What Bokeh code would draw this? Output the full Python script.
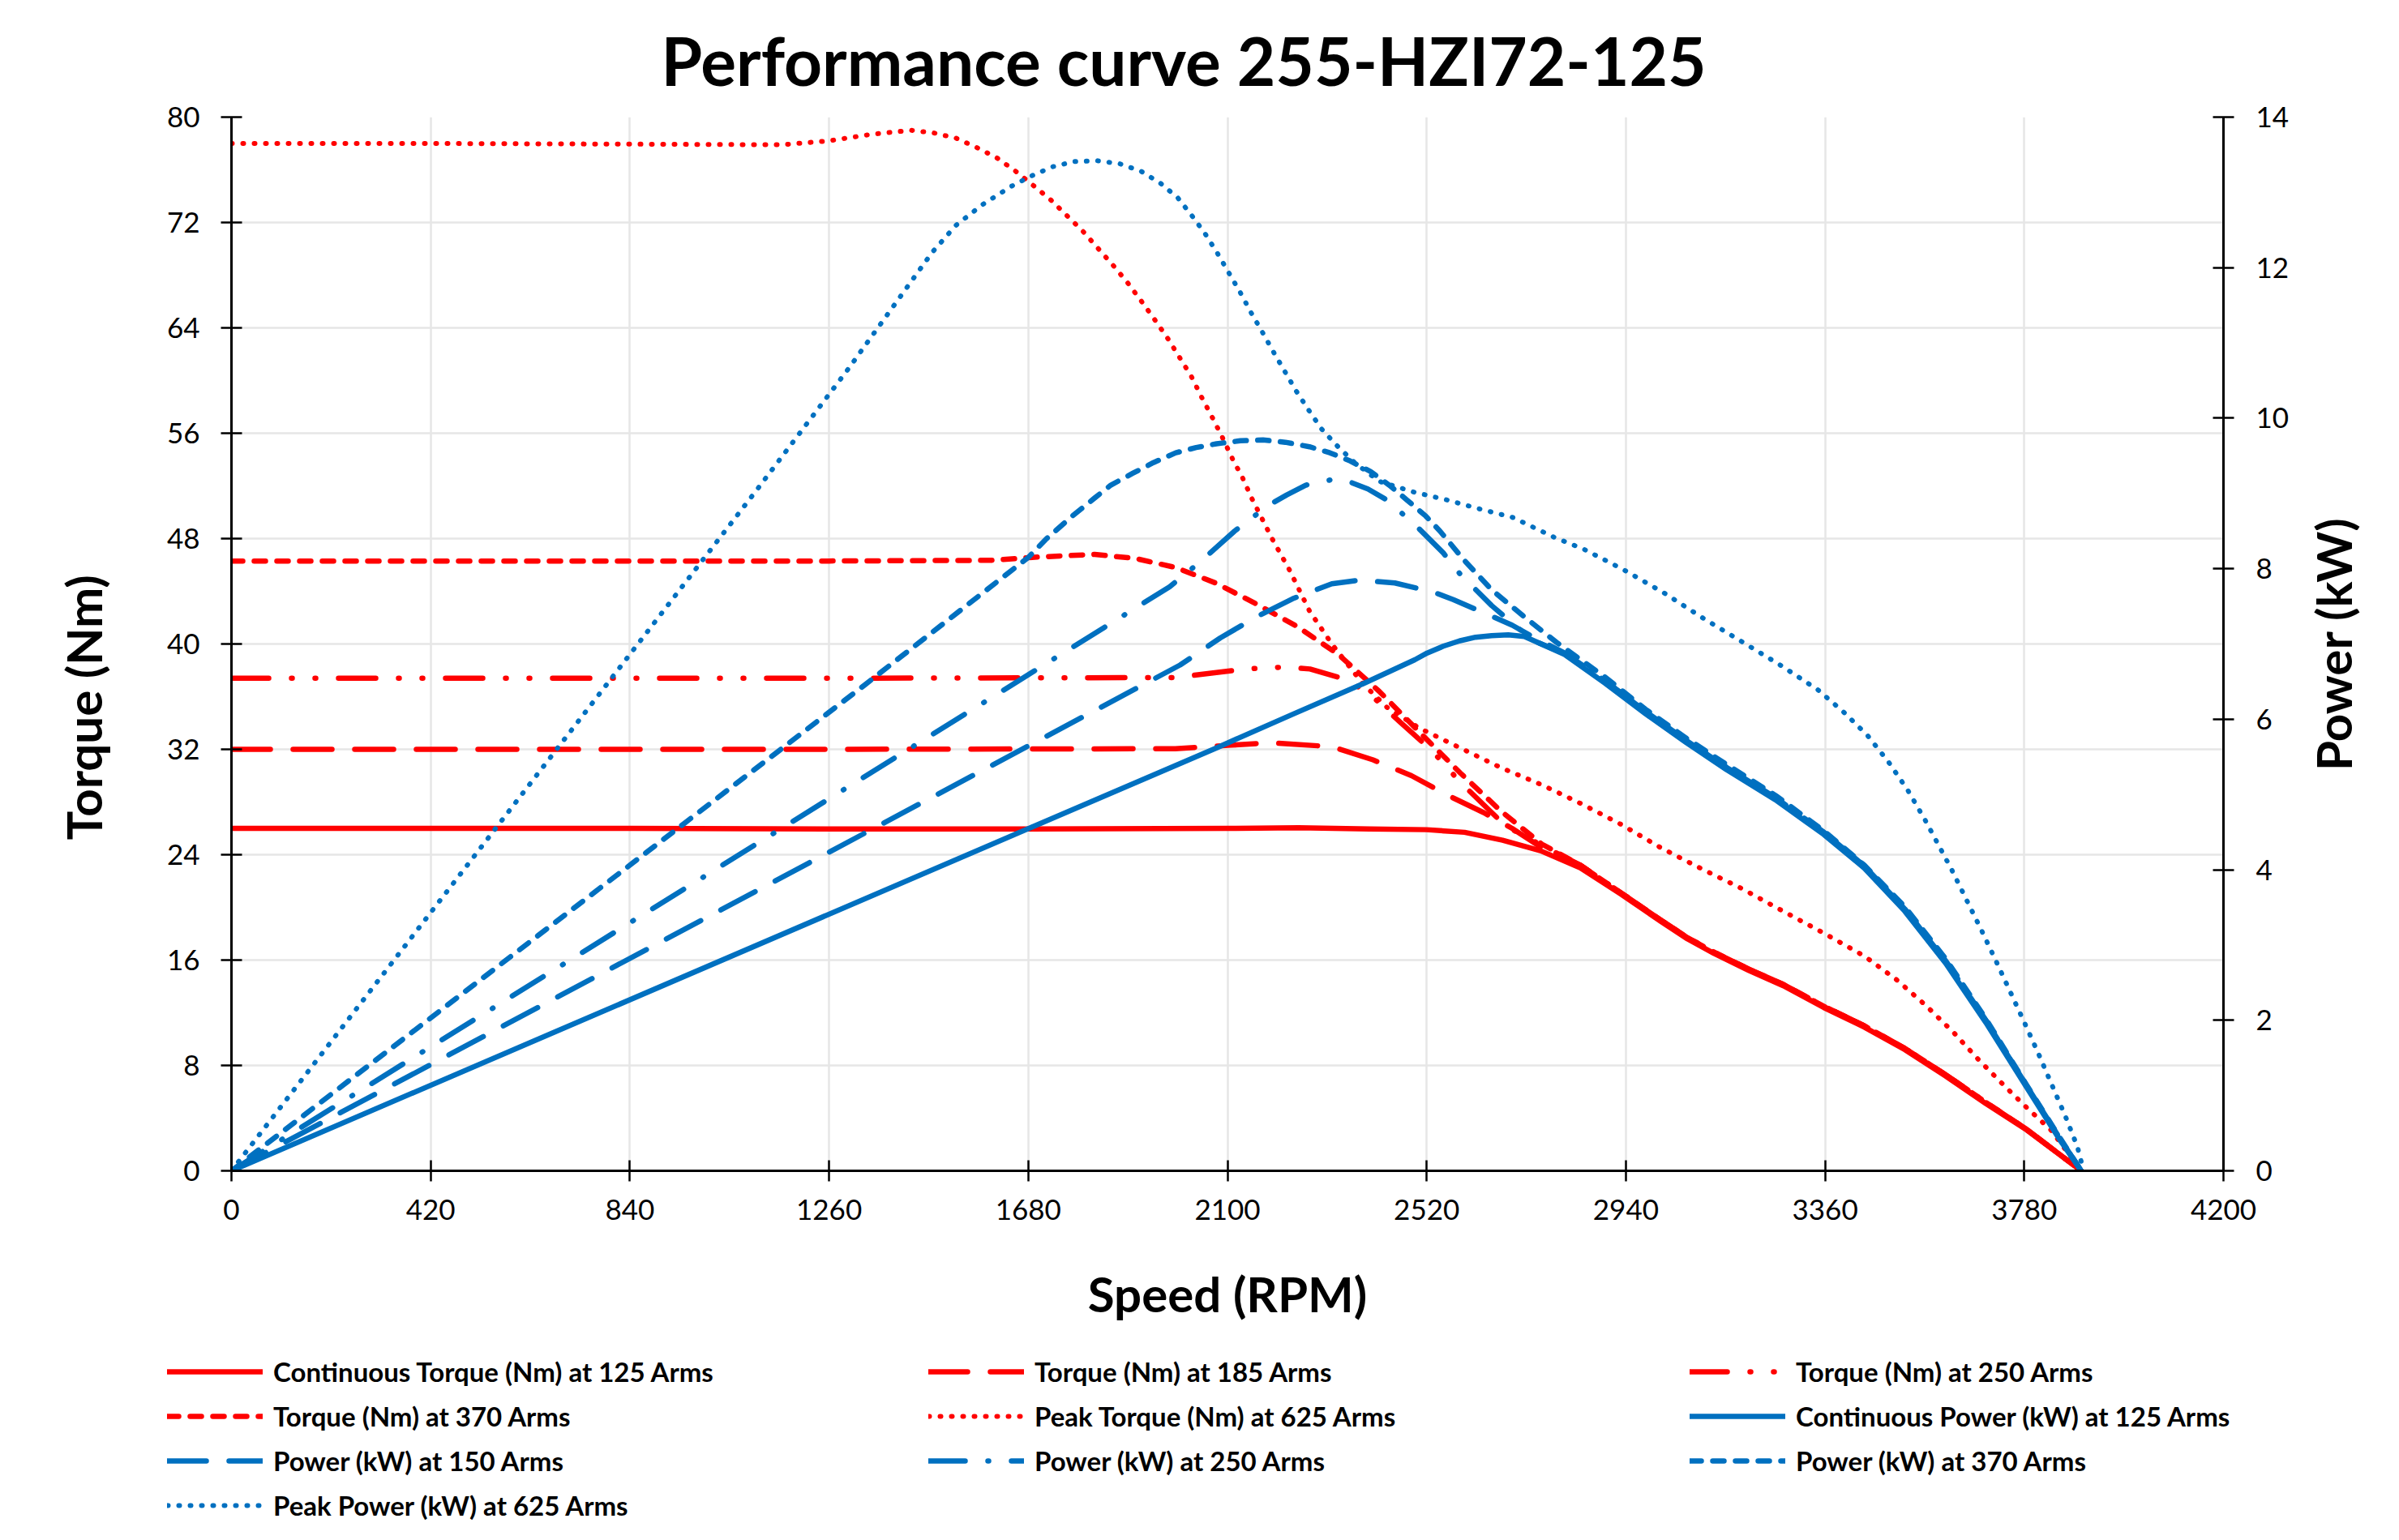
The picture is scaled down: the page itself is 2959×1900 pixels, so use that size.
import math
from bokeh.plotting import figure
from bokeh.models import Range1d, LinearAxis, FixedTicker, Legend, LegendItem, Title, Label
from bokeh.embed import file_html
from bokeh.resources import INLINE

# ---------------- data ----------------
x_ticks = [0, 420, 840, 1260, 1680, 2100, 2520, 2940, 3360, 3780, 4200]
torque_ticks = [0, 8, 16, 24, 32, 40, 48, 56, 64, 72, 80]
power_ticks = [0, 2, 4, 6, 8, 10, 12, 14]

rpm_ct = [0, 420, 840, 1260, 1680, 2100, 2250, 2400, 2520, 2600, 2680, 2760, 2844, 2930, 3015, 3070, 3126,
          3200, 3272, 3357, 3443, 3528, 3614, 3699, 3785, 3900]
tq_ct = [26.0, 26.0, 26.0, 25.95, 25.95, 26.0, 26.05, 25.95, 25.9, 25.7, 25.1, 24.3, 23.0, 21.0, 18.9, 17.6,
         16.5, 15.2, 14.05, 12.4, 10.9, 9.2, 7.2, 5.1, 3.1, 0.0]

rpm_t185 = [0, 1260, 1990, 2100, 2190, 2320, 2407, 2488, 2565, 2640, 2700, 2760, 2844, 2930, 3015, 3070,
            3126, 3200, 3272, 3357, 3443, 3528, 3614, 3699, 3785, 3900]
tq_t185 = [32.0, 32.0, 32.05, 32.3, 32.5, 32.2, 31.2, 30.0, 28.5, 27.2, 26.0, 24.6, 23.2, 21.1, 19.0, 17.7,
           16.6, 15.3, 14.15, 12.5, 11.0, 9.3, 7.3, 5.2, 3.15, 0.0]

rpm_t250 = [0, 1260, 1990, 2137, 2223, 2274, 2351, 2400, 2463, 2531, 2591, 2686, 2763, 2844, 2930, 3015,
            3070, 3126, 3200, 3272, 3357, 3443, 3528, 3614, 3699, 3785, 3900]
tq_t250 = [37.4, 37.4, 37.45, 38.1, 38.25, 38.1, 37.3, 36.2, 34.1, 31.9, 29.5, 26.2, 24.7, 23.2, 21.1, 19.0,
           17.7, 16.6, 15.3, 14.15, 12.5, 11.0, 9.3, 7.3, 5.2, 3.15, 0.0]

rpm_t370 = [0, 1260, 1600, 1700, 1820, 1905, 1991, 2077, 2163, 2248, 2334, 2420, 2505, 2591, 2677, 2763,
            2844, 2930, 3015, 3070, 3126, 3200, 3272, 3357, 3443, 3528, 3614, 3699, 3785, 3900]
tq_t370 = [46.3, 46.3, 46.35, 46.6, 46.8, 46.5, 45.8, 44.6, 43.0, 41.3, 39.2, 36.4, 33.3, 30.2, 27.3, 24.8,
           23.2, 21.1, 19.0, 17.7, 16.6, 15.3, 14.15, 12.5, 11.0, 9.3, 7.3, 5.2, 3.15, 0.0]

rpm_pt = [0, 420, 840, 1160, 1260, 1350, 1433, 1481, 1528, 1571, 1614, 1653, 1691, 1728, 1762, 1796, 1828,
          1860, 1890, 1919, 1947, 1974, 2000, 2024, 2046, 2068, 2089, 2110, 2132, 2152, 2173, 2194, 2231,
          2273, 2320, 2385, 2436, 2505, 2591, 2677, 2763, 2844, 2930, 3015, 3101, 3186, 3272, 3357, 3443,
          3511, 3571, 3631, 3682, 3734, 3785, 3836, 3900]
tq_pt = [78.0, 78.0, 77.95, 77.9, 78.2, 78.7, 79.0, 78.8, 78.4, 77.7, 76.9, 75.9, 74.8, 73.7, 72.5, 71.3, 70.0,
         68.7, 67.4, 66.0, 64.6, 63.2, 61.7, 60.3, 58.7, 57.2, 55.7, 54.1, 52.6, 51.0, 49.5, 48.0, 45.6,
         42.5, 40.0, 37.0, 35.2, 33.6, 32.1, 30.6, 29.3, 27.9, 26.3, 24.5, 22.9, 21.4, 19.7, 18.05, 16.3,
         14.5, 12.6, 10.5, 8.5, 6.6, 4.8, 3.1, 0.0]

rpm_cp = [0, 2077, 2239, 2389, 2495, 2521, 2555, 2589, 2623, 2657, 2692, 2726, 2811, 2896, 2982, 3067, 3152,
          3255, 3357, 3443, 3528, 3614, 3699, 3785, 3853, 3900]
kw_cp = [0.0, 5.62, 6.07, 6.48, 6.79, 6.88, 6.97, 7.04, 7.09, 7.11, 7.12, 7.10, 6.86, 6.48, 6.07, 5.69, 5.33,
         4.93, 4.47, 4.02, 3.45, 2.76, 1.97, 1.11, 0.43, 0.0]

rpm_p150 = [0, 2000, 2085, 2158, 2237, 2320, 2380, 2453, 2534, 2576, 2657, 2700, 2751, 2811, 2896, 2982,
            3067, 3152, 3255, 3357, 3443, 3528, 3614, 3699, 3785, 3853, 3900]
kw_p150 = [0.0, 6.72, 7.08, 7.35, 7.60, 7.80, 7.85, 7.81, 7.69, 7.59, 7.37, 7.25, 7.07, 6.88, 6.51, 6.10,
           5.72, 5.36, 4.96, 4.50, 4.05, 3.48, 2.79, 2.00, 1.13, 0.45, 0.0]

rpm_p250 = [0, 1978, 2046, 2115, 2186, 2225, 2265, 2325, 2355, 2396, 2437, 2501, 2555, 2589, 2657, 2743,
            2811, 2896, 2982, 3067, 3152, 3255, 3357, 3443, 3528, 3614, 3699, 3785, 3853, 3900]
kw_p250 = [0.0, 7.76, 8.11, 8.50, 8.84, 8.98, 9.11, 9.19, 9.16, 9.06, 8.91, 8.55, 8.21, 7.94, 7.51, 7.05,
           6.87, 6.51, 6.10, 5.72, 5.36, 4.96, 4.50, 4.05, 3.48, 2.79, 2.00, 1.13, 0.45, 0.0]

rpm_p370 = [0, 1334, 1680, 1717, 1773, 1820, 1854, 1901, 1944, 1991, 2034, 2077, 2127, 2175, 2222, 2273,
            2316, 2359, 2402, 2441, 2479, 2518, 2548, 2598, 2657, 2726, 2794, 2896, 2982, 3067, 3152, 3255,
            3357, 3443, 3528, 3614, 3699, 3785, 3853, 3900]
kw_p370 = [0.0, 6.45, 8.15, 8.39, 8.70, 8.94, 9.11, 9.27, 9.41, 9.54, 9.61, 9.66, 9.70, 9.71, 9.68, 9.62,
           9.54, 9.43, 9.29, 9.11, 8.91, 8.70, 8.50, 8.12, 7.72, 7.36, 7.02, 6.56, 6.13, 5.75, 5.40, 4.99,
           4.52, 4.06, 3.51, 2.82, 2.02, 1.14, 0.46, 0.0]

rpm_pp = [0, 1108, 1300, 1477, 1527, 1584, 1644, 1687, 1731, 1777, 1826, 1873, 1918, 1959, 1995, 2025,
          2053, 2079, 2103, 2127, 2150, 2173, 2197, 2221, 2245, 2271, 2298, 2330, 2368, 2420, 2492, 2565,
          2634, 2702, 2788, 2851, 2937, 3020, 3101, 3182, 3263, 3345, 3400, 3450, 3494, 3535, 3571, 3605,
          3627, 3659, 3691, 3721, 3751, 3781, 3811, 3839, 3867, 3892, 3905]
kw_pp = [0.0, 9.05, 10.65, 12.2, 12.56, 12.84, 13.08, 13.22, 13.34, 13.41, 13.42, 13.38, 13.28, 13.12, 12.93,
         12.69, 12.45, 12.19, 11.93, 11.67, 11.40, 11.15, 10.88, 10.62, 10.36, 10.11, 9.86, 9.64, 9.41, 9.16,
         9.02, 8.91, 8.79, 8.68, 8.42, 8.26, 7.98, 7.68, 7.35, 7.04, 6.73, 6.39, 6.09, 5.78, 5.43, 5.05,
         4.66, 4.26, 4.00, 3.59, 3.18, 2.78, 2.37, 1.96, 1.54, 1.13, 0.72, 0.32, 0.0]

labels = ["Continuous Torque (Nm) at 125 Arms", "Torque (Nm) at 185 Arms", "Torque (Nm) at 250 Arms",
          "Torque (Nm) at 370 Arms", "Peak Torque (Nm) at 625 Arms", "Continuous Power (kW) at 125 Arms",
          "Power (kW) at 150 Arms", "Power (kW) at 250 Arms", "Power (kW) at 370 Arms",
          "Peak Power (kW) at 625 Arms"]

# ---------------- styling ----------------
RED = "#FF0000"
BLUE = "#0070C0"
FONT = "Lato"
GRID = "#e6e6e6"

series = [
    (rpm_ct, tq_ct, RED, "solid", 6.5, None),
    (rpm_t185, tq_t185, RED, "48 28", 6.5, None),
    (rpm_t250, tq_t250, RED, "46 28 1 28 1 28", 6.5, None),
    (rpm_t370, tq_t370, RED, "14 14", 6.5, None),
    (rpm_pt, tq_pt, RED, "1 13", 6.0, None),
    (rpm_cp, kw_cp, BLUE, "solid", 6.5, "power"),
    (rpm_p150, kw_p150, BLUE, "48 28", 6.5, "power"),
    (rpm_p250, kw_p250, BLUE, "45 28 1 28", 6.5, "power"),
    (rpm_p370, kw_p370, BLUE, "14 14", 6.5, "power"),
    (rpm_pp, kw_pp, BLUE, "1 13", 6.0, "power"),
]

p = figure(width=2959, height=1660, x_range=Range1d(0, 4200), y_range=Range1d(0, 80),
           output_backend="svg", toolbar_location=None,
           min_border_left=285, min_border_right=217, min_border_top=143, min_border_bottom=216)
p.outline_line_color = None
p.background_fill_color = "white"
p.border_fill_color = "white"

p.title.text = "Performance curve 255-HZI72-125"
p.title.text_font = FONT
p.title.text_font_style = "bold"
p.title.text_font_size = "82px"
p.title.text_color = "black"
p.title.align = "left"
p.title.offset = 530
p.title.standoff = 44

p.extra_y_ranges = {"power": Range1d(0, 14)}
ax_r = LinearAxis(y_range_name="power")
p.add_layout(ax_r, "right")

p.xaxis.ticker = FixedTicker(ticks=x_ticks)
p.yaxis[0].ticker = FixedTicker(ticks=torque_ticks)
ax_r.ticker = FixedTicker(ticks=power_ticks)
p.xgrid.ticker = FixedTicker(ticks=x_ticks)
p.ygrid.ticker = FixedTicker(ticks=torque_ticks)

for ax in [p.xaxis[0], p.yaxis[0], ax_r]:
    ax.axis_line_width = 3
    ax.axis_line_color = "black"
    ax.major_tick_in = 13
    ax.major_tick_out = 13
    ax.major_tick_line_width = 2.5
    ax.major_tick_line_color = "black"
    ax.minor_tick_line_color = None
    ax.major_label_text_font = FONT
    ax.major_label_text_font_size = "35px"
    ax.major_label_text_color = "black"
    ax.axis_label_text_font = FONT
    ax.axis_label_text_font_style = "bold"
    ax.axis_label_text_font_size = "60px"
    ax.axis_label_text_color = "black"

p.yaxis[0].major_label_standoff = 26
ax_r.major_label_standoff = 27
p.xaxis[0].major_label_standoff = 22

p.xaxis[0].axis_label = "Speed (RPM)"
p.xaxis[0].axis_label_standoff = 52

# right-hand axis title: rotated label (reads bottom-to-top), centred on the frame
lab_r = Label(x=4432, y=7.0, x_units="data", y_units="data", y_range_name="power",
              text="Power (kW)", angle=math.pi / 2, text_align="center", text_baseline="middle",
              text_font=FONT, text_font_style="bold", text_font_size="60px", text_color="black")
p.add_layout(lab_r, "right")

t_left = Title(text="Torque (Nm)", align="left", offset=408, text_font=FONT,
               text_font_style="bold", text_font_size="60px", text_color="black", standoff=128)
p.add_layout(t_left, "left")

for g in [p.xgrid[0], p.ygrid[0]]:
    g.grid_line_color = GRID
    g.grid_line_width = 2.5

for xs, ys, color, dash, width, rng in series:
    kw = dict(line_color=color, line_width=width, line_dash=dash, line_cap="round", line_join="round")
    if rng:
        kw["y_range_name"] = rng
    p.line(xs, ys, **kw)

# ---------------- legend strip below the chart (separate root, no frame alignment) ----------------
p2 = figure(width=2959, height=240, x_range=Range1d(0, 2959), y_range=Range1d(0, 240),
            x_axis_type=None, y_axis_type=None, output_backend="svg", toolbar_location=None,
            min_border=0)
p2.outline_line_color = None
p2.grid.visible = False
p2.background_fill_color = "white"
p2.border_fill_color = "white"

items = []
for lab, (xs, ys, color, dash, width, rng) in zip(labels, series):
    rr = p2.line([-10, -9], [-10, -10], line_color=color, line_width=width, line_dash=dash,
                 line_cap="round", line_join="round")
    items.append(LegendItem(label=lab, renderers=[rr]))

legend = Legend(items=items, location=(206, 23), orientation="horizontal", ncols=3,
                glyph_width=118, glyph_height=40, label_height=40, label_width=793,
                label_standoff=13, spacing=15, padding=0, margin=0,
                border_line_color=None, background_fill_alpha=0,
                label_text_font=FONT, label_text_font_style="bold", label_text_font_size="33px",
                label_text_color="black")
p2.add_layout(legend)

open("out.html", "w").write(file_html([p, p2], INLINE))
